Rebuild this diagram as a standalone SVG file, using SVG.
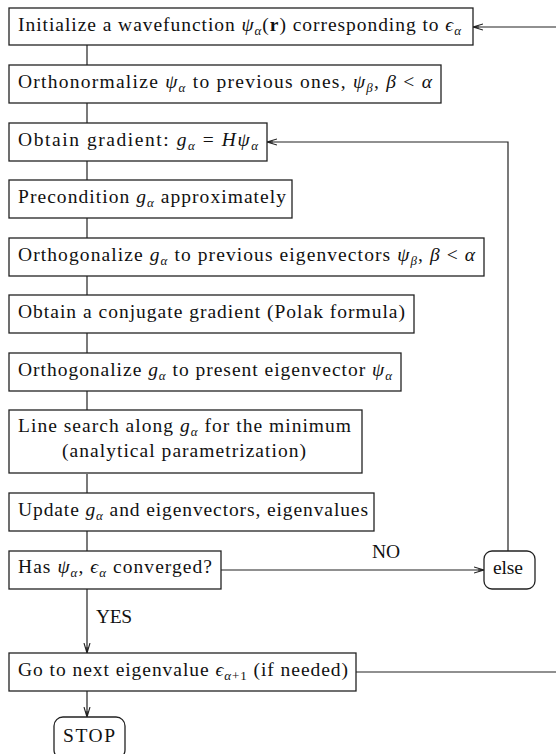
<svg xmlns="http://www.w3.org/2000/svg" width="556" height="754" viewBox="0 0 556 754">
<style>
text{font-family:"Liberation Serif","DejaVu Serif",serif;font-size:19.5px;fill:#111}
.m{font-style:italic}
.s{font-size:13px;font-style:italic}
.sn{font-size:13px}
.box{fill:#fff;stroke:#222;stroke-width:1.3}
.ln{fill:none;stroke:#222;stroke-width:1.2}
</style>
<defs>
<marker id="ah" markerWidth="12" markerHeight="8" refX="10" refY="4" orient="auto" markerUnits="userSpaceOnUse">
<path d="M0,1 L10,4 L0,7 M4,4 L10,4" fill="none" stroke="#222" stroke-width="1.1"/>
</marker>
</defs>
<g id="connectors">
<path class="ln" d="M87,45V65M87,103V123M87,161V180M87,218V238M87,276V295M87,333V353M87,391V410M87,474V493M87,531V551"/>
<path class="ln" d="M87,589V653" marker-end="url(#ah)"/>
<path class="ln" d="M87,691V717" marker-end="url(#ah)"/>
<path class="ln" d="M221,570H484" marker-end="url(#ah)"/>
<path class="ln" d="M508,551V142H267" marker-end="url(#ah)"/>
<path class="ln" d="M356,672H562V27H473" marker-end="url(#ah)"/>
<text x="372" y="558" textLength="28">NO</text>
<text x="96" y="623" textLength="36">YES</text>
</g>
<g id="n1"><rect class="box" x="9" y="8" width="464" height="37"/>
<text x="18" y="31" textLength="443">Initialize a wavefunction <tspan class="m">ψ</tspan><tspan class="s" dy="4">α</tspan><tspan dy="-4">(</tspan><tspan font-weight="bold">r</tspan>) corresponding to <tspan class="m">ϵ</tspan><tspan class="s" dy="4">α</tspan></text></g>
<g id="n2"><rect class="box" x="9" y="65" width="432" height="38"/>
<text x="18" y="88" textLength="414">Orthonormalize <tspan class="m">ψ</tspan><tspan class="s" dy="4">α</tspan><tspan dy="-4"> to previous ones, </tspan><tspan class="m">ψ</tspan><tspan class="s" dy="4">β</tspan><tspan dy="-4">, </tspan><tspan class="m">β</tspan> &lt; <tspan class="m">α</tspan></text></g>
<g id="n3"><rect class="box" x="9" y="123" width="258" height="38"/>
<text x="18" y="146" textLength="240">Obtain gradient: <tspan class="m">g</tspan><tspan class="s" dy="4">α</tspan><tspan dy="-4"> = </tspan><tspan class="m">Hψ</tspan><tspan class="s" dy="4">α</tspan></text></g>
<g id="n4"><rect class="box" x="9" y="180" width="283" height="38"/>
<text x="18" y="203" textLength="268">Precondition <tspan class="m">g</tspan><tspan class="s" dy="4">α</tspan><tspan dy="-4"> approximately</tspan></text></g>
<g id="n5"><rect class="box" x="9" y="238" width="475" height="38"/>
<text x="18" y="261" textLength="457">Orthogonalize <tspan class="m">g</tspan><tspan class="s" dy="4">α</tspan><tspan dy="-4"> to previous eigenvectors </tspan><tspan class="m">ψ</tspan><tspan class="s" dy="4">β</tspan><tspan dy="-4">, </tspan><tspan class="m">β</tspan> &lt; <tspan class="m">α</tspan></text></g>
<g id="n6"><rect class="box" x="9" y="295" width="405" height="38"/>
<text x="18" y="318" textLength="387">Obtain a conjugate gradient (Polak formula)</text></g>
<g id="n7"><rect class="box" x="9" y="353" width="392" height="38"/>
<text x="18" y="376" textLength="374">Orthogonalize <tspan class="m">g</tspan><tspan class="s" dy="4">α</tspan><tspan dy="-4"> to present eigenvector </tspan><tspan class="m">ψ</tspan><tspan class="s" dy="4">α</tspan></text></g>
<g id="n8"><rect class="box" x="9" y="410" width="353" height="63"/>
<text x="18" y="432" textLength="333">Line search along <tspan class="m">g</tspan><tspan class="s" dy="4">α</tspan><tspan dy="-4"> for the minimum</tspan></text>
<text x="62" y="457" textLength="244">(analytical parametrization)</text></g>
<g id="n9"><rect class="box" x="9" y="493" width="365" height="38"/>
<text x="18" y="516" textLength="350">Update <tspan class="m">g</tspan><tspan class="s" dy="4">α</tspan><tspan dy="-4"> and eigenvectors, eigenvalues</tspan></text></g>
<g id="n10"><rect class="box" x="9" y="551" width="212" height="38"/>
<text x="18" y="573" textLength="194">Has <tspan class="m">ψ</tspan><tspan class="s" dy="4">α</tspan><tspan dy="-4">, </tspan><tspan class="m">ϵ</tspan><tspan class="s" dy="4">α</tspan><tspan dy="-4"> converged?</tspan></text></g>
<g id="else"><rect class="box" x="484" y="551" width="51" height="38" rx="8"/>
<text x="493" y="574" textLength="30">else</text></g>
<g id="n11"><rect class="box" x="9" y="653" width="347" height="38"/>
<text x="18" y="676" textLength="330">Go to next eigenvalue <tspan class="m">ϵ</tspan><tspan class="s" dy="4">α</tspan><tspan class="sn">+1</tspan><tspan dy="-4"> (if needed)</tspan></text></g>
<g id="stop"><rect class="box" x="54" y="717" width="71" height="42" rx="9"/>
<text x="63" y="742" textLength="52">STOP</text></g>
</svg>
